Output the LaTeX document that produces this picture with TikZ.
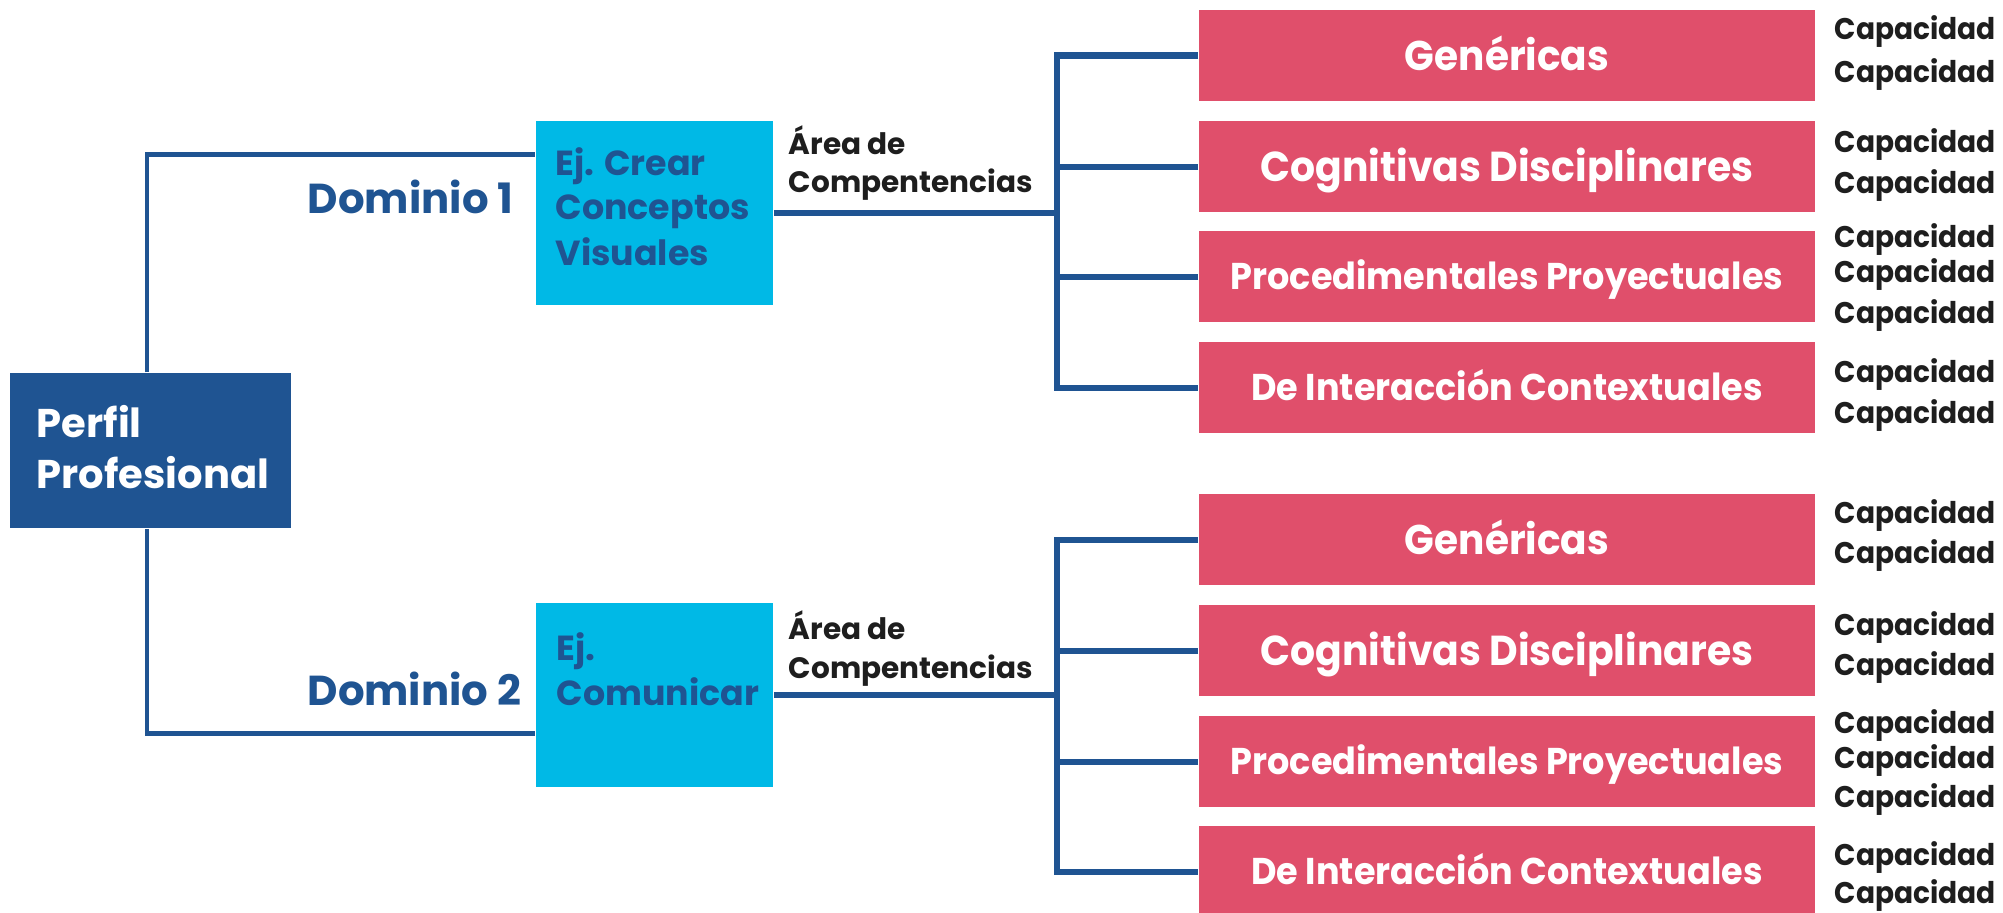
\documentclass[tikz,border=0pt]{standalone}
\usepackage{fontspec}
\setmainfont{Poppins}
\newfontfamily\pnarrow{Poppins}[FakeStretch=0.94]
\definecolor{dblue}{RGB}{31,84,146}
\definecolor{cyanb}{RGB}{0,185,230}
\definecolor{pinkb}{RGB}{224,79,107}
\definecolor{txtk}{RGB}{30,30,30}
\begin{document}
\begin{tikzpicture}[x=0.01cm,y=-0.01cm,
  lconn/.style={draw=dblue,line width=0.045cm},
  bconn/.style={draw=dblue,line width=0.06cm},
  pbox/.style={fill=dblue,minimum width=2.81cm,minimum height=1.55cm,inner sep=0pt},
  ebox/.style={fill=cyanb,minimum width=2.37cm,minimum height=1.84cm,inner sep=0pt},
  cbox/.style={fill=pinkb,minimum width=6.16cm,minimum height=0.91cm,inner sep=0pt,text=white,text depth=0pt},
  genc/.style={cbox,font=\pnarrow\bfseries\fontsize{11.8}{14}\selectfont,text height=8.3pt},
  cogc/.style={cbox,font=\pnarrow\bfseries\fontsize{11.9}{14}\selectfont,text height=8.3pt},
  smallc/.style={cbox,font=\pnarrow\bfseries\fontsize{10.6}{13}\selectfont,text height=7.4pt},
  ptext/.style={anchor=base west,inner sep=0pt,text=white,font=\bfseries\fontsize{11.4}{14}\selectfont},
  etext/.style={anchor=base west,inner sep=0pt,text=dblue,font=\bfseries\fontsize{9.9}{12}\selectfont},
  dtext/.style={anchor=base east,inner sep=0pt,text=dblue,font=\bfseries\fontsize{11.9}{15}\selectfont},
  atext/.style={anchor=base west,inner sep=0pt,text=txtk,font=\bfseries\fontsize{8.4}{10}\selectfont},
  captext/.style={anchor=base west,inner sep=0pt,text=txtk,font=\pnarrow\bfseries\fontsize{8.5}{10}\selectfont}
]
\useasboundingbox (0,0) rectangle (2003,912);

% boxes
\node[pbox] (pp) at (150.5,450.5) {};
\node[ebox] (ej1) at (654.5,213) {};
\node[ebox] (ej2) at (654.5,695) {};

\node[genc] (g1) at (1507,55.5) {Genéricas};
\node[cogc] (g2) at (1507,166.5) {Cognitivas Disciplinares};
\node[smallc] (g3) at (1507,276.5) {Procedimentales Proyectuales};
\node[smallc] (g4) at (1507,387.5) {De Interacción Contextuales};

\node[genc] (h1) at (1507,539.5) {Genéricas};
\node[cogc] (h2) at (1507,650.5) {Cognitivas Disciplinares};
\node[smallc] (h3) at (1507,761.5) {Procedimentales Proyectuales};
\node[smallc] (h4) at (1507,871.5) {De Interacción Contextuales};

% connectors
\draw[lconn] ([xshift=-0.035cm]pp.north) |- ([yshift=-0.34cm]ej1.north west);
\draw[lconn] ([xshift=-0.035cm]pp.south) |- ([yshift=0.54cm]ej2.south west);

\coordinate (k1) at (1057,213);
\coordinate (k2) at (1057,695);
\draw[bconn] (ej1.east) -- (k1);
\draw[bconn] (g1.west) -| (k1) |- (g4.west);
\draw[bconn] (g2.west) -- (g2.west -| k1);
\draw[bconn] (g3.west) -- (g3.west -| k1);
\draw[bconn] (ej2.east) -- (k2);
\draw[bconn] (h1.west) -| (k2) |- (h4.west);
\draw[bconn] (h2.west) -- (h2.west -| k2);
\draw[bconn] (h3.west) -- (h3.west -| k2);

% texts
\node[ptext] (pt1) at (36,437) {Perfil};
\node[ptext] (pt2) at (36,488) {Profesional};

\node[etext] (e11) at (555,175) {Ej. Crear};
\node[etext] (e12) at (555,219) {Conceptos};
\node[etext] (e13) at (555,265) {Visuales};
\node[etext] (e21) at (556,660) {Ej.};
\node[etext] (e22) at (556,705) {Comunicar};

\node[dtext] (d1) at (514,213) {Dominio 1};
\node[dtext] (d2) at (522,705) {Dominio 2};

\node[atext] (a11) at (788,154) {Área de};
\node[atext] (a12) at (788,192) {Compentencias};
\node[atext] (a21) at (788,639) {Área de};
\node[atext] (a22) at (788,678) {Compentencias};

\foreach \n/\yy in {1/40,2/82,3/152,4/193,5/247,6/282,7/323,8/382,9/423,
                    10/523,11/563,12/635,13/675,14/733,15/768,16/807,17/865,18/903}
  \node[captext] (c\n) at (1834,\yy) {Capacidad};
\end{tikzpicture}
\end{document}
